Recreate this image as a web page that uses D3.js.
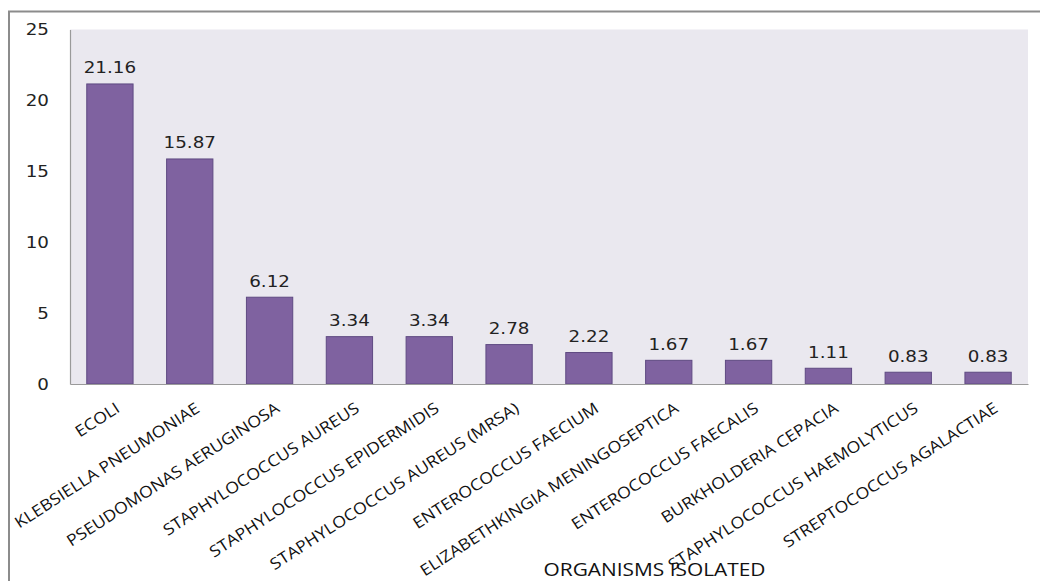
<!DOCTYPE html>
<html>
<head>
<meta charset="utf-8">
<script src="https://cdn.jsdelivr.net/npm/d3@7/dist/d3.min.js"></script>
<style>
  html, body { margin: 0; padding: 0; background: #ffffff; }
  svg { display: block; }
</style>
</head>
<body>
<svg id="chart" width="1040" height="581"></svg>
<script>
const categories = [
  "ECOLI",
  "KLEBSIELLA PNEUMONIAE",
  "PSEUDOMONAS AERUGINOSA",
  "STAPHYLOCOCCUS AUREUS",
  "STAPHYLOCOCCUS EPIDERMIDIS",
  "STAPHYLOCOCCUS AUREUS (MRSA)",
  "ENTEROCOCCUS FAECIUM",
  "ELIZABETHKINGIA MENINGOSEPTICA",
  "ENTEROCOCCUS FAECALIS",
  "BURKHOLDERIA CEPACIA",
  "STAPHYLOCOCCUS HAEMOLYTICUS",
  "STREPTOCOCCUS AGALACTIAE"
];
const values = [21.16, 15.87, 6.12, 3.34, 3.34, 2.78, 2.22, 1.67, 1.67, 1.11, 0.83, 0.83];
const valueLabels = ["21.16", "15.87", "6.12", "3.34", "3.34", "2.78", "2.22", "1.67", "1.67", "1.11", "0.83", "0.83"];
const yTicks = [0, 5, 10, 15, 20, 25];
const xTitle = "ORGANISMS ISOLATED";

const svg = d3.select("#chart");

// outer frame (top and left edges visible)
svg.append("path")
  .attr("d", "M9,581 L9,11.5 L1040,11.5")
  .attr("fill", "none")
  .attr("stroke", "#8c8c8c")
  .attr("stroke-width", 2);

const plot = { left: 70, right: 1028, top: 29.5, bottom: 384 };

const x = d3.scaleBand()
  .domain(categories)
  .range([plot.left, plot.right])
  .paddingInner(0.42)
  .paddingOuter(0.21);

const y = d3.scaleLinear()
  .domain([0, 25])
  .range([plot.bottom, plot.top]);

// plot background
svg.append("rect")
  .attr("x", plot.left)
  .attr("y", plot.top)
  .attr("width", plot.right - plot.left)
  .attr("height", plot.bottom - plot.top)
  .attr("fill", "#EAE8EF");

// bars
svg.append("g").selectAll("rect")
  .data(values)
  .join("rect")
  .attr("x", (d, i) => x(categories[i]))
  .attr("y", d => y(d))
  .attr("width", x.bandwidth())
  .attr("height", d => y(0) - y(d))
  .attr("fill", "#7F62A0")
  .attr("stroke", "#5F4A82")
  .attr("stroke-width", 1);

// value labels
svg.append("g").selectAll("text")
  .data(values)
  .join("text")
  .attr("transform", (d, i) => `translate(${x(categories[i]) + x.bandwidth() / 2},${y(d) - 10.5}) scale(1.22,1)`)
  .attr("text-anchor", "middle")
  .attr("font-family", "'DejaVu Sans', Verdana, sans-serif")
  .attr("font-size", 15)
  .attr("fill", "#222")
  .text((d, i) => valueLabels[i]);

// y axis
const yAxis = svg.append("g")
  .attr("transform", `translate(${plot.left},0)`)
  .call(d3.axisLeft(y).tickValues(yTicks).tickSize(0).tickSizeOuter(0).tickFormat(d3.format("d")));
yAxis.select(".domain").attr("stroke", "#9a9a9a").attr("stroke-width", 1.2);
yAxis.selectAll("text")
  .attr("x", 0)
  .attr("dy", "0.36em")
  .attr("transform", "translate(-21,0) scale(1.22,1)")
  .attr("font-family", "'DejaVu Sans', Verdana, sans-serif")
  .attr("font-size", 15)
  .attr("fill", "#222");

// x axis
const xAxis = svg.append("g")
  .attr("transform", `translate(0,${plot.bottom})`)
  .call(d3.axisBottom(x).tickSize(0).tickSizeOuter(0));
xAxis.select(".domain").attr("stroke", "#9a9a9a").attr("stroke-width", 1.2);
xAxis.selectAll("text")
  .attr("x", 0)
  .attr("y", 0)
  .attr("dy", null)
  .attr("text-anchor", "end")
  .attr("transform", "translate(11,27) rotate(-33) scale(1.11,1)")
  .attr("font-family", "'Open Sans', sans-serif")
  .attr("font-size", 16)
  .attr("fill", "#111");

// axis title
svg.append("text")
  .attr("transform", "translate(654.5,576) scale(1.16,1)")
  .attr("text-anchor", "middle")
  .attr("font-family", "'Open Sans', sans-serif")
  .attr("font-size", 18)
  .attr("fill", "#111")
  .text(xTitle);
</script>
</body>
</html>
